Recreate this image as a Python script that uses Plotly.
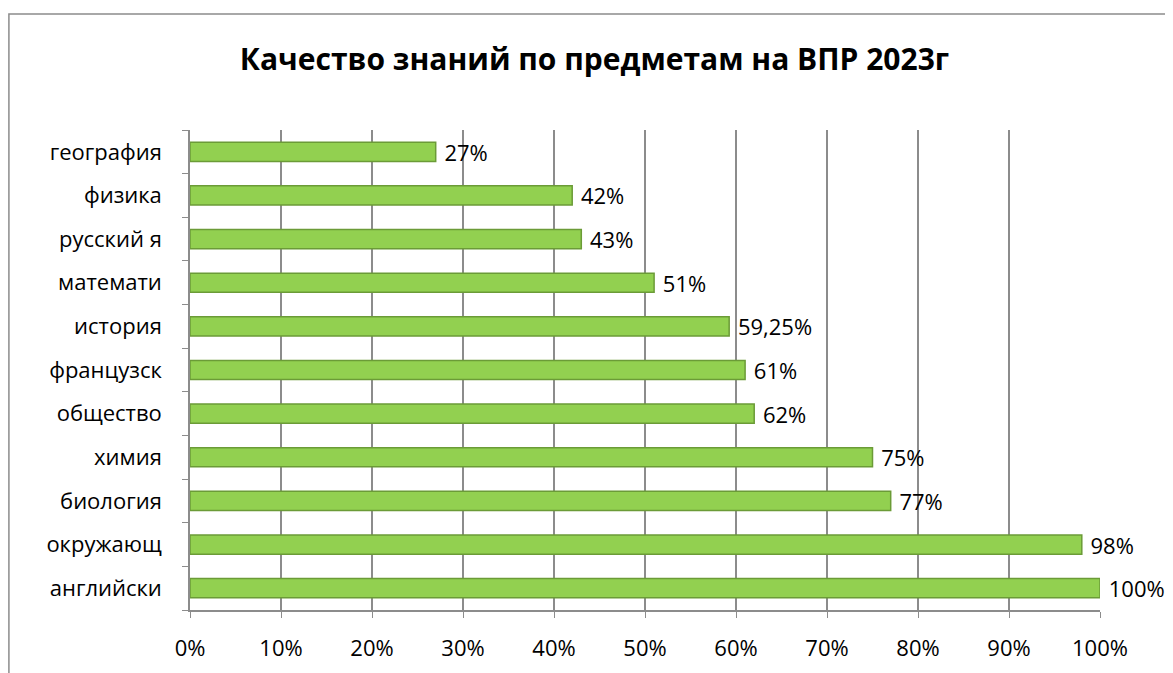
import plotly.graph_objects as go

# subjects, bottom to top as plotly draws them
subjects = ["английски", "окружающ", "биология", "химия", "общество",
            "французск", "история", "математи", "русский я", "физика", "география"]
quality = [100, 98, 77, 75, 62, 61, 59.25, 51, 43, 42, 27]
x_ticks = list(range(0, 101, 10))
x_tick_text = [f"{t}%" for t in x_ticks]

labels = [f"{v:g}%".replace(".", ",") for v in quality]

fig = go.Figure(go.Bar(
    x=quality, y=subjects, orientation="h",
    marker=dict(color="#92D050", line=dict(color="#6B9B37", width=1.5)),
    text=labels, texttemplate="\u00a0%{text}",
    textposition="outside", cliponaxis=False, constraintext="none",
    textfont=dict(size=22, color="black"),
    hoverinfo="skip",
))

# page body adds 8px, margins compensate for it
fig.update_layout(
    width=1173, height=673,
    margin=dict(l=182, r=81, t=122, b=71, autoexpand=False),
    paper_bgcolor="white", plot_bgcolor="white",
    font=dict(family="Open Sans", size=17, color="black"),
    title=dict(text="<b>Качество знаний по предметам на ВПР 2023г</b>",
               x=0.5, xanchor="center", y=0.923, yanchor="middle",
               font=dict(size=30, family="Open Sans")),
    bargap=0.56,
    showlegend=False,
)
fig.update_xaxes(range=[0, 100], tickvals=x_ticks, ticktext=x_tick_text,
                 showgrid=True, gridcolor="#8C8C8C", gridwidth=1.5,
                 showline=True, linecolor="#8C8C8C", linewidth=1.5,
                 ticks="outside", ticklen=6, tickcolor="#8C8C8C",
                 zeroline=False, tickfont=dict(size=22),
                 ticklabelstandoff=12, automargin=False)
fig.update_yaxes(showline=True, linecolor="#8C8C8C", linewidth=1.5,
                 ticks="outside", tickson="boundaries", ticklen=6,
                 tickcolor="#8C8C8C", showgrid=False, tickfont=dict(size=22),
                 ticklabelstandoff=22, automargin=False)

# chart frame like the office chart border
fig.add_shape(type="rect", xref="paper", yref="paper",
              x0=-0.199, x1=1.1, y0=-0.2, y1=1.2417,
              line=dict(color="#8C8C8C", width=1.5))

fig.write_html("out.html")
